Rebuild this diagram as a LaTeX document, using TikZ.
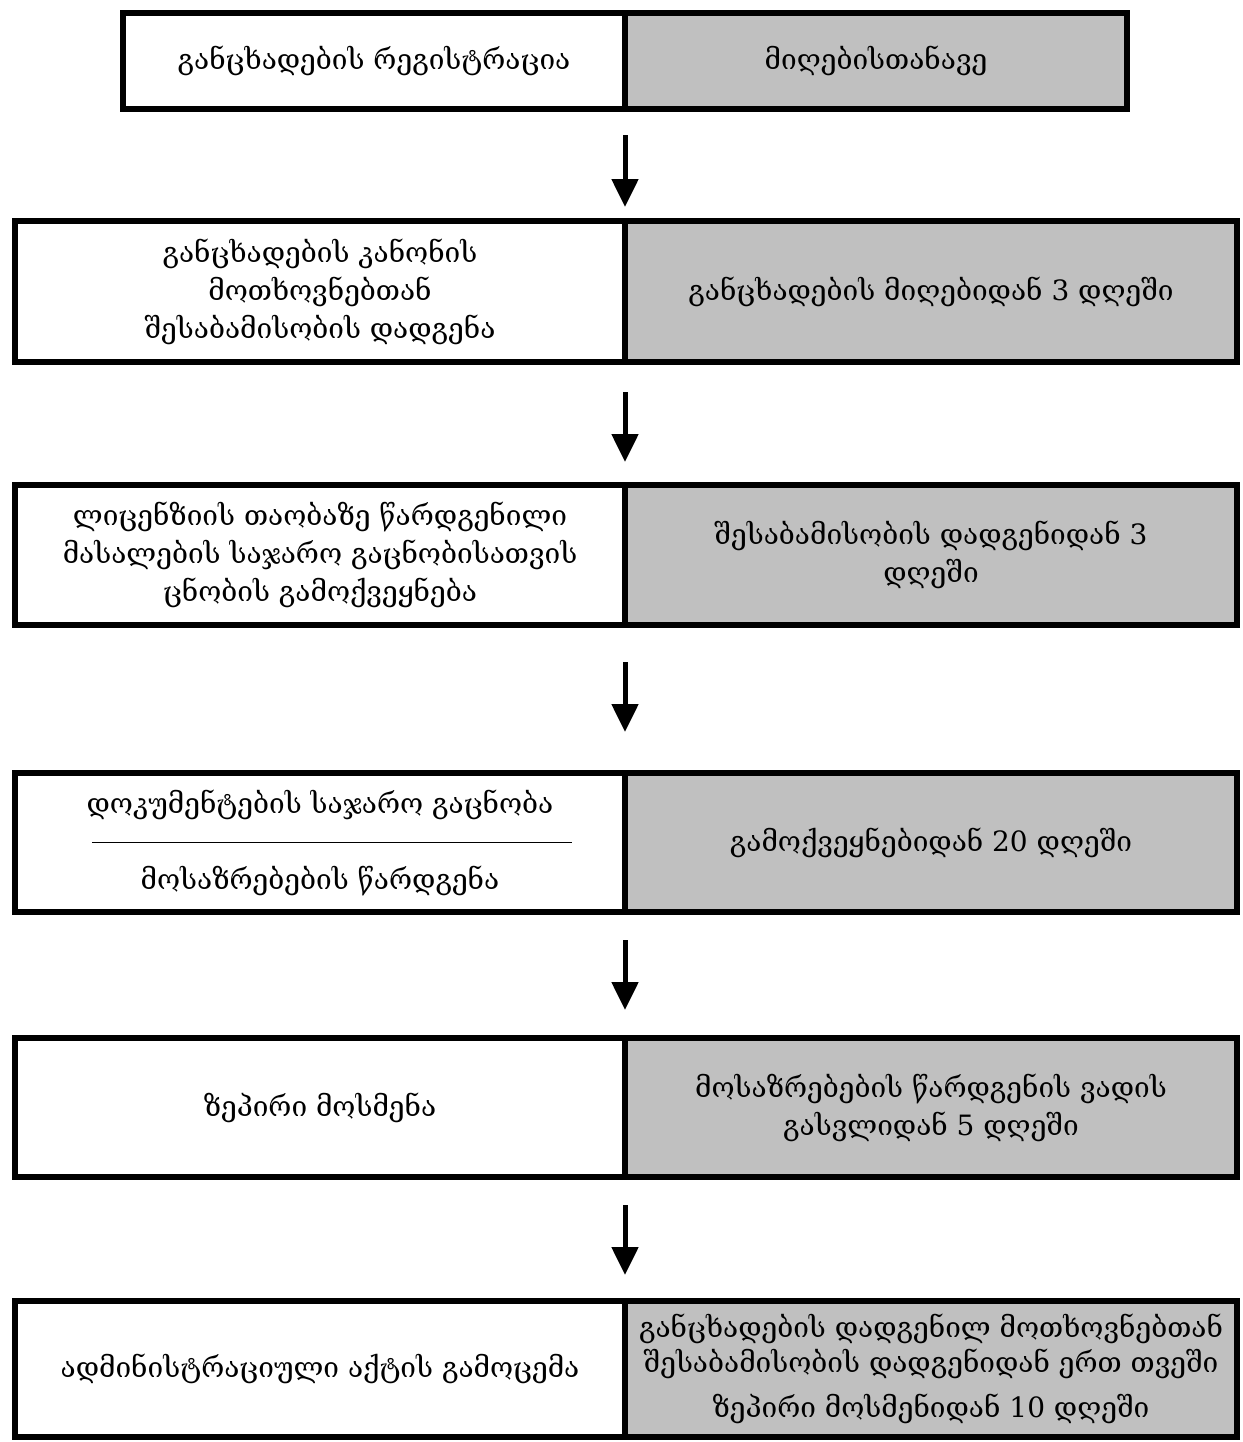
\documentclass[tikz,border=0pt]{standalone}
\usepackage{fontspec}
\setmainfont{DejaVu Serif}
\usepackage{xcolor}
\definecolor{cellgray}{RGB}{192,192,192}
\usetikzlibrary{positioning,arrows.meta}

\begin{document}
\begin{tikzpicture}[x=0.5pt,y=-0.5pt,
  cell/.style={draw=black,line width=3pt,inner sep=0pt,outer sep=0pt,align=center,
    font=\fontsize{14}{19}\selectfont,minimum height=70pt},
  stage/.style={cell,fill=white,minimum width=305pt,anchor=north west},
  term/.style={cell,fill=cellgray,minimum width=306pt},
  flow/.style={line width=2.5pt,-{Triangle[length=14pt,width=13pt]}}]
  \useasboundingbox (0,0) rectangle (1243,1442);

  % first row is narrower
  \node[stage,minimum width=251pt,minimum height=48pt] (r1l) at (123,13) {განცხადების რეგისტრაცია};
  \node[term,minimum width=251pt,minimum height=48pt,right=0pt of r1l] (r1r) {მიღებისთანავე};

  \node[stage,minimum height=70.5pt] (r2l) at (15,221) {განცხადების კანონის\\მოთხოვნებთან\\შესაბამისობის დადგენა};
  \node[term,minimum height=70.5pt,right=0pt of r2l] (r2r) {განცხადების მიღებიდან 3 დღეში};

  \node[stage] (r3l) at (15,485) {ლიცენზიის თაობაზე წარდგენილი\\მასალების საჯარო გაცნობისათვის\\ცნობის გამოქვეყნება};
  \node[term,right=0pt of r3l] (r3r) {შესაბამისობის დადგენიდან 3\\დღეში};

  \node[stage,minimum height=69.5pt] (r4l) at (15,773) {დოკუმენტების საჯარო გაცნობა\\\hspace*{12pt}\rule[4pt]{240pt}{0.75pt}\\მოსაზრებების წარდგენა};
  \node[term,minimum height=69.5pt,right=0pt of r4l] (r4r) {გამოქვეყნებიდან 20 დღეში};

  \node[stage,minimum height=69.5pt] (r5l) at (15,1038) {ზეპირი მოსმენა};
  \node[term,minimum height=69.5pt,right=0pt of r5l] (r5r) {მოსაზრებების წარდგენის ვადის\\გასვლიდან 5 დღეში};

  \node[stage,minimum height=68pt] (r6l) at (15,1301) {ადმინისტრაციული აქტის გამოცემა};
  \node[term,minimum height=68pt,right=0pt of r6l,font=\fontsize{14}{17.5}\selectfont] (r6r) {განცხადების დადგენილ მოთხოვნებთან\\შესაბამისობის დადგენიდან ერთ თვეში\\[5pt]ზეპირი მოსმენიდან 10 დღეში};

  % arrows between the rows
  \draw[flow,shorten <=13pt,shorten >=7pt] (r1l.south east) -- (r2l.north east);
  \draw[flow,shorten <=15pt,shorten >=11.5pt] (r2l.south east) -- (r3l.north east);
  \draw[flow,shorten <=18.5pt,shorten >=20.5pt] (r3l.south east) -- (r4l.north east);
  \draw[flow,shorten <=14pt,shorten >=14pt] (r4l.south east) -- (r5l.north east);
  \draw[flow,shorten <=14pt,shorten >=13pt] (r5l.south east) -- (r6l.north east);
\end{tikzpicture}
\end{document}
